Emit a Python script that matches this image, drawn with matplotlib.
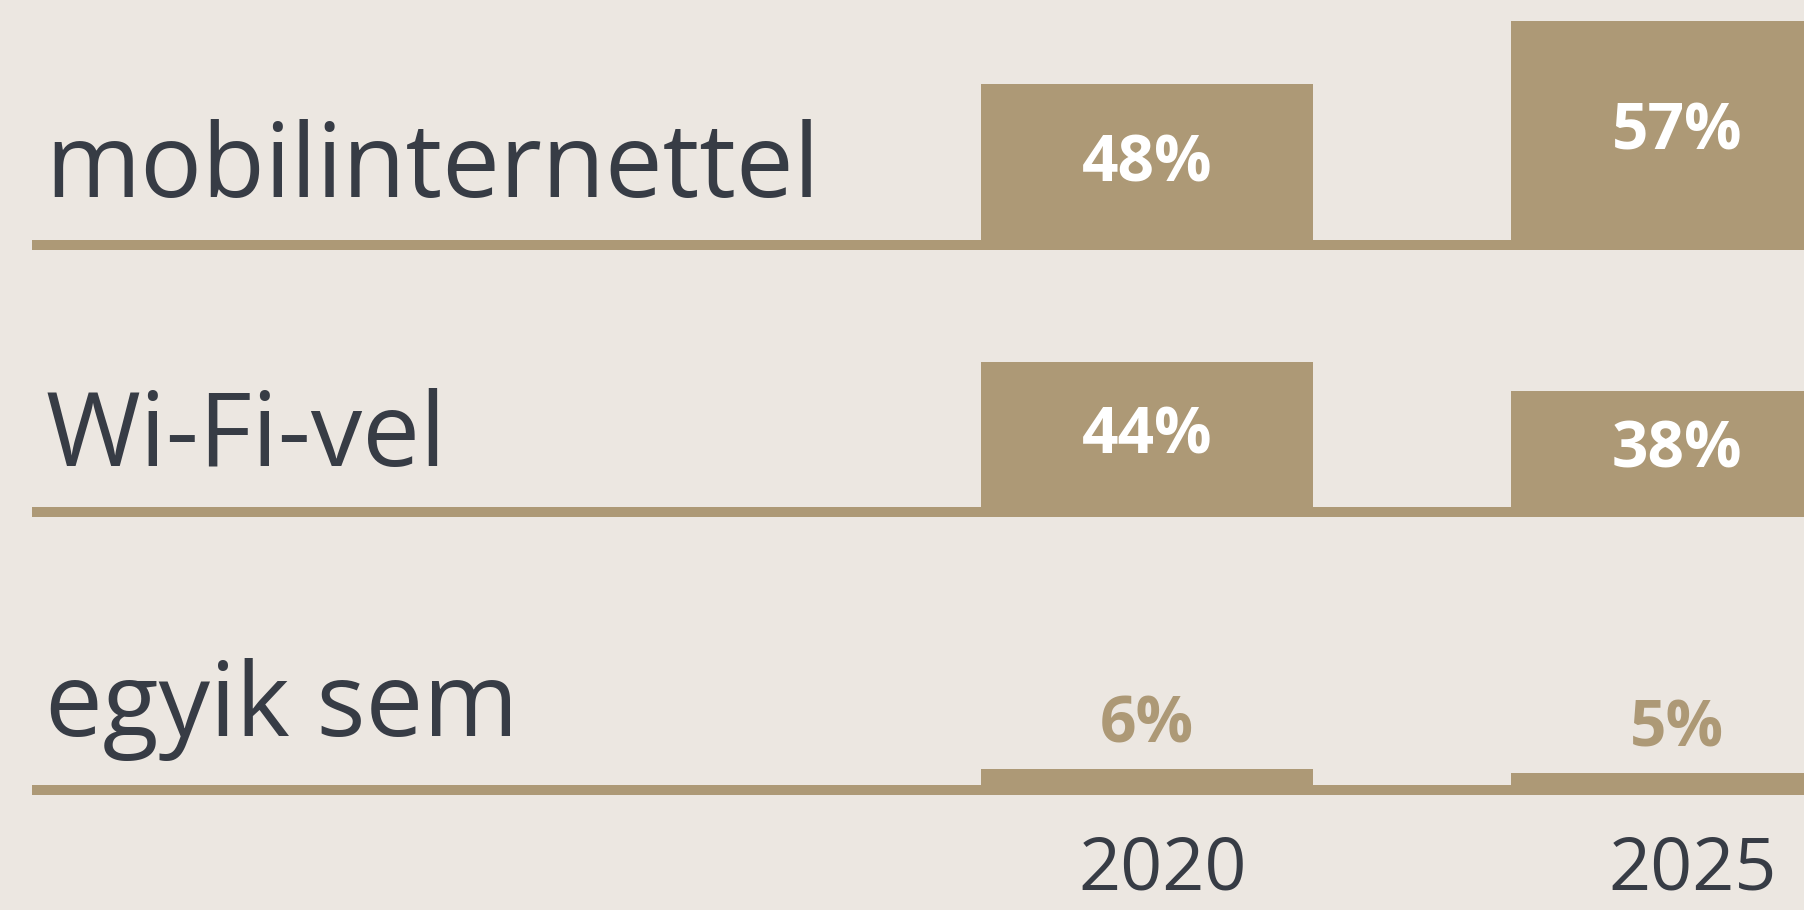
import matplotlib
matplotlib.use("Agg")
import matplotlib.pyplot as plt
import matplotlib.transforms as mtransforms

plt.rcParams['font.family'] = ['Open Sans', 'DejaVu Sans']

# adatok
kategoriak = ["mobilinternettel", "Wi-Fi-vel", "egyik sem"]
evek = ["2020", "2025"]
ertekek_2020 = [48, 44, 6]
ertekek_2025 = [57, 38, 5]

HATTER = "#ECE7E1"
BARNA = "#AD9976"
SOTET = "#373C45"

fig = plt.figure(figsize=(18.04, 9.10), dpi=100)
fig.patch.set_facecolor(HATTER)

W, H = 1804, 910
# sorok alapvonala (px felulrol) es y-tartomanyok soronkent
alapvonal_px = [245, 511.5, 790]
ylimek = [(25, 59.3), (13.07, 62.7), (0, 70)]
szoveg_y = [0.2, 0.19, 0.225]
ax_mag = 240

# x: 2020 -> 0, 2025 -> 1
poz = [0, 1]
px_per_egyseg = 530
x0 = 1147
xlim = ((0 - x0) / px_per_egyseg, (W - x0) / px_per_egyseg)
szel = 0.628

for i, kat in enumerate(kategoriak):
    ax = fig.add_axes([0, 1 - alapvonal_px[i] / H, 1, ax_mag / H])
    ax.set_facecolor("none")
    ax.set_xlim(*xlim)
    ax.set_ylim(*ylimek[i])
    ax.axis("off")

    vals = [ertekek_2020[i], ertekek_2025[i]]
    ax.bar(poz, vals, width=szel, bottom=0, color=BARNA, zorder=2)
    lo = ylimek[i][0]
    ax.axhline(lo, xmin=0.018, xmax=1, color=BARNA, lw=7.2,
               clip_on=False, zorder=3, solid_capstyle="butt")

    for p, v in zip(poz, vals):
        if v > 10:
            ax.text(p, (lo + v) / 2, f"{v}%", ha="center", va="center",
                    color="white", fontsize=46, fontweight="bold", zorder=4)
        else:
            ax.annotate(f"{v}%", xy=(p, v), xytext=(0, 31),
                        textcoords="offset points", ha="center", va="center",
                        color=BARNA, fontsize=46, fontweight="bold")

    ax.text(0.025, szoveg_y[i], kat, transform=ax.transAxes, ha="left",
            va="baseline", color=SOTET, fontsize=74)

    if i == len(kategoriak) - 1:
        tr = mtransforms.blended_transform_factory(ax.transData, fig.transFigure)
        for p, ev in zip(poz, evek):
            ax.text(p + 0.03, 2 / H, ev, transform=tr, ha="center",
                    va="bottom", color=SOTET, fontsize=53)

fig.savefig("out.png", dpi=100, facecolor=HATTER)
